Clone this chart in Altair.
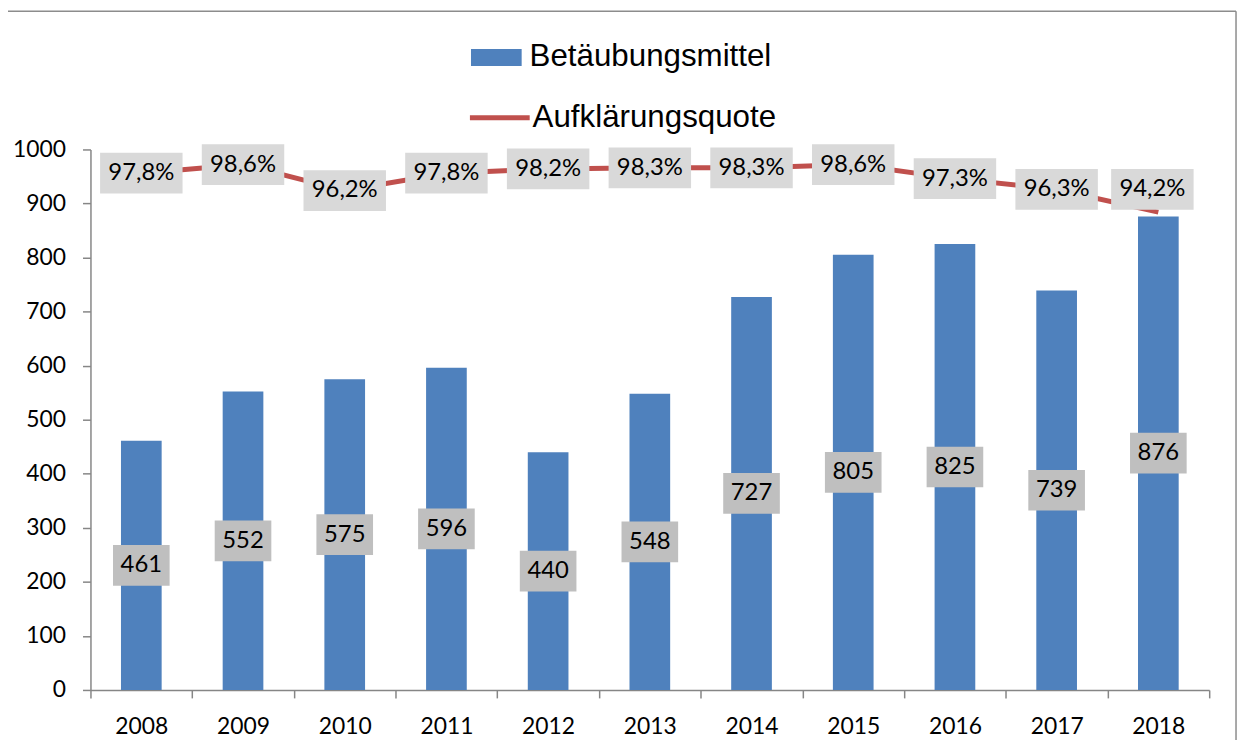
import altair as alt
import pandas as pd

years = ["2008", "2009", "2010", "2011", "2012", "2013", "2014", "2015", "2016", "2017", "2018"]
cases = [461, 552, 575, 596, 440, 548, 727, 805, 825, 739, 876]
quote = [97.8, 98.6, 96.2, 97.8, 98.2, 98.3, 98.3, 98.6, 97.3, 96.3, 94.2]
series_names = ["Betäubungsmittel", "Aufklärungsquote"]
y_ticks = list(range(0, 1001, 100))

df = pd.DataFrame({"year": years, "cases": cases, "quote": quote})
df["quote_txt"] = [f"{v:.1f}".replace(".", ",") + "%" for v in quote]
df["s_bar"] = series_names[0]
df["s_line"] = series_names[1]

BLUE = "#4F81BD"
RED = "#C0504D"
AXIS_GRAY = "#868686"

base = alt.Chart(df)

x_enc = alt.X(
    "year:N", sort=None,
    scale=alt.Scale(paddingInner=0, paddingOuter=0),
    axis=alt.Axis(title=None, labelAngle=0, tickBand="extent", labelPadding=18,
                  tickSize=8, domainColor=AXIS_GRAY, tickColor=AXIS_GRAY,
                  domainWidth=1.5, tickWidth=1.5),
)

y_left = alt.Scale(domain=[0, 1000])
y_right = alt.Scale(domain=[50, 100])
y_axis = alt.Axis(title=None, values=y_ticks, format="d", grid=False, tickSize=8,
                  labelPadding=17, domainColor=AXIS_GRAY, tickColor=AXIS_GRAY,
                  domainWidth=1.5, tickWidth=1.5)

bars = base.mark_bar(width=alt.RelativeBandSize(0.4)).encode(
    x=x_enc,
    y=alt.Y("cases:Q", scale=y_left, axis=y_axis),
    color=alt.Color("s_bar:N", scale=alt.Scale(domain=[series_names[0]], range=[BLUE]),
                    legend=alt.Legend(title=None, orient="none", legendX=383, legendY=-118,
                                      labelFont="Liberation Sans", labelFontSize=31.5,
                                      labelColor="black", labelLimit=0,
                                      symbolType="M-1,-0.333H1V0.333H-1Z",
                                      symbolSize=2601, symbolStrokeWidth=0, labelOffset=8,
                                      padding=0)),
)

bar_box = base.transform_calculate(mid="datum.cases / 2").mark_point(
    shape="M-1,-0.719H1V0.719H-1Z", size=3249, filled=True, fill="#BFBFBF",
    opacity=1, strokeWidth=0,
).encode(x=x_enc, y=alt.Y("mid:Q", scale=y_left, axis=y_axis))

bar_txt = base.transform_calculate(mid="datum.cases / 2").mark_text(
    font="Lato", fontSize=24, color="black", baseline="middle", align="center",
).encode(x=x_enc, y=alt.Y("mid:Q", scale=y_left, axis=y_axis), text=alt.Text("cases:Q"))

bar_group = alt.layer(bars, bar_box, bar_txt)

line = base.mark_line(strokeWidth=5).encode(
    x=x_enc,
    y=alt.Y("quote:Q", scale=y_right, axis=None),
    stroke=alt.Stroke("s_line:N", scale=alt.Scale(domain=[series_names[1]], range=[RED]),
                      legend=alt.Legend(title=None, orient="none", legendX=379, legendY=-65,
                                        labelFont="Liberation Sans", labelFontSize=31.5,
                                        labelColor="black", labelLimit=0,
                                        symbolType="stroke",
                                        symbolSize=3620, symbolStrokeWidth=5, labelOffset=0,
                                        padding=0)),
)

normal = base.transform_filter("datum.year != '2018'")
last = base.transform_filter("datum.year == '2018'")

line_box = normal.mark_point(
    shape="M-1,-0.494H1V0.494H-1Z", size=6889, filled=True, fill="#D9D9D9",
    opacity=1, strokeWidth=0,
).encode(x=x_enc, y=alt.Y("quote:Q", scale=y_right, axis=None))

line_txt = normal.mark_text(
    font="Lato", fontSize=24, color="black", baseline="middle", align="center",
).encode(x=x_enc, y=alt.Y("quote:Q", scale=y_right, axis=None), text="quote_txt:N")

last_box = last.mark_point(
    shape="M-1,-0.494H1V0.494H-1Z", size=6889, filled=True, fill="#D9D9D9",
    opacity=1, strokeWidth=0, xOffset=-6, yOffset=-23,
).encode(x=x_enc, y=alt.Y("quote:Q", scale=y_right, axis=None))

last_txt = last.mark_text(
    font="Lato", fontSize=24, color="black", baseline="middle", align="center",
    xOffset=-6, yOffset=-23,
).encode(x=x_enc, y=alt.Y("quote:Q", scale=y_right, axis=None), text="quote_txt:N")

line_group = alt.layer(line, line_box, line_txt, last_box, last_txt)

frame_df = pd.DataFrame({"k": [0]})
top_border = alt.Chart(frame_df).mark_rule(color="#8C8C8C", strokeWidth=1.5).encode(
    x=alt.value(-83), x2=alt.value(1153), y=alt.value(-139))
right_border = alt.Chart(frame_df).mark_rule(color="#8C8C8C", strokeWidth=1.5).encode(
    x=alt.value(1153), y=alt.value(-139), y2=alt.value(700))

chart = alt.layer(bar_group, line_group, top_border, right_border).resolve_scale(
    y="independent", color="independent"
).properties(
    width=1126, height=544,
    padding={"left": 83, "top": 140, "right": 30, "bottom": 48},
    autosize="none",
).configure_view(stroke=None).configure_axis(
    labelFont="Lato", labelFontSize=23, labelColor="black",
)

chart.save("out.html", embed_options={"renderer": "svg", "actions": False})
